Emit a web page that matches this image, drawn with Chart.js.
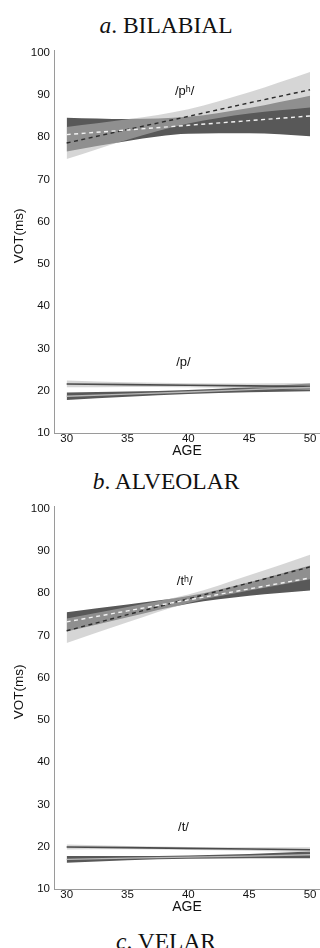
<!DOCTYPE html>
<html>
<head>
<meta charset="utf-8">
<script src="https://cdn.jsdelivr.net/npm/chart.js@4.4.1/dist/chart.umd.min.js"></script>
<style>
  html, body { margin: 0; padding: 0; background: #fff; }
  body { width: 320px; height: 948px; position: relative; overflow: hidden; }
  .ttl { position: absolute; left: 0; width: 332px; text-align: center;
         font: 23.5px/1 "Liberation Serif", "Times New Roman", serif; color: #111; white-space: nowrap; }
  canvas { position: absolute; left: 0; }
</style>
</head>
<body>
<div class="ttl" style="top:13.6px"><i>a</i>. BILABIAL</div>
<canvas id="chartA" width="320" height="420" style="top:40px"></canvas>
<div class="ttl" style="top:470.3px"><i>b</i>. ALVEOLAR</div>
<canvas id="chartB" width="320" height="420" style="top:496px"></canvas>
<div class="ttl" style="top:929.5px"><i>c</i>. VELAR</div>
<script>
// ---------- data ----------
const ages = [30, 35, 40, 45, 50];
const xTicks = [30, 35, 40, 45, 50];
const yTicks = [10, 20, 30, 40, 50, 60, 70, 80, 90, 100];

// a. BILABIAL, /pʰ/
const aAspLightMid = [78.6, 81.8, 84.9, 88.1, 91.2];
const aAspLightHi  = [82.4, 84.2, 86.6, 90.6, 95.4];
const aAspLightLo  = [74.8, 79.4, 83.2, 85.6, 87.0];
const aAspDarkMid  = [80.6, 81.7, 82.8, 83.9, 85.0];
const aAspDarkHi   = [84.6, 84.3, 84.8, 86.9, 89.8];
const aAspDarkLo   = [76.6, 79.1, 80.8, 80.9, 80.2];
// a. BILABIAL, /p/
const aUnaLightMid = [21.6, 21.45, 21.3, 21.15, 21.0];
const aUnaLightHi  = [22.4, 22.0, 21.75, 21.7, 21.8];
const aUnaLightLo  = [20.8, 20.9, 20.85, 20.6, 20.2];
const aUnaDarkMid  = [18.7, 19.2, 19.7, 20.25, 20.8];
const aUnaDarkHi   = [19.6, 19.8, 20.2, 20.85, 21.7];
const aUnaDarkLo   = [17.8, 18.55, 19.2, 19.65, 19.9];

// b. ALVEOLAR, /tʰ/
const bAspLightMid = [71.1, 74.9, 78.65, 82.4, 86.2];
const bAspLightHi  = [74.0, 76.7, 79.65, 84.2, 89.1];
const bAspLightLo  = [68.2, 73.1, 77.65, 80.6, 83.3];
const bAspDarkMid  = [73.2, 75.8, 78.4, 81.0, 83.6];
const bAspDarkHi   = [75.5, 77.3, 79.3, 82.6, 86.55];
const bAspDarkLo   = [70.9, 74.3, 77.5, 79.4, 80.65];
// b. ALVEOLAR, /t/
const bUnaLightMid = [19.95, 19.8, 19.6, 19.45, 19.3];
const bUnaLightHi  = [20.55, 20.2, 19.95, 19.85, 19.9];
const bUnaLightLo  = [19.35, 19.4, 19.25, 19.05, 18.7];
const bUnaDarkMid  = [17.0, 17.3, 17.55, 17.8, 18.1];
const bUnaDarkHi   = [17.8, 17.8, 17.95, 18.3, 18.9];
const bUnaDarkLo   = [16.2, 16.8, 17.15, 17.3, 17.3];

const aLabels = ['/pʰ/', '/p/'];
const bLabels = ['/tʰ/', '/t/'];

// ---------- styles ----------
const SANS = '"Liberation Sans", Arial, Helvetica, sans-serif';
const DARK_FILL = 'rgb(88,88,88)';
const LIGHT_FILL = 'rgba(184,184,184,0.575)';
const AXIS = '#9a9a9a';
const TXT = '#111';

function pts(arr) { return ages.map((a, i) => ({ x: a, y: arr[i] })); }

function buildDatasets(g) {
  const ds = [];
  function band(hi, lo, color, order) {
    ds.push({ data: pts(hi), borderWidth: 0, pointRadius: 0, fill: false, order: order,
              cubicInterpolationMode: 'monotone' });
    ds.push({ data: pts(lo), borderWidth: 0, pointRadius: 0, fill: '-1', backgroundColor: color,
              order: order - 1, cubicInterpolationMode: 'monotone' });
  }
  function line(mid, color, width, dash, order) {
    ds.push({ data: pts(mid), borderColor: color, borderWidth: width, borderDash: dash,
              pointRadius: 0, fill: false, tension: 0, order: order });
  }
  band(g.aspDarkHi, g.aspDarkLo, DARK_FILL, 40);
  band(g.aspLightHi, g.aspLightLo, LIGHT_FILL, 30);
  band(g.unaDarkHi, g.unaDarkLo, DARK_FILL, 20);
  band(g.unaLightHi, g.unaLightLo, LIGHT_FILL, 10);
  line(g.aspLightMid, '#2b2b2b', 1.4, [4, 3.5], 3);
  line(g.aspDarkMid, '#f2f2f2', 1.4, [4, 3.5], 2);
  line(g.unaLightMid, '#4a4a4a', 1.6, [], 1);
  line(g.unaDarkMid, '#b8b8b8', 1.3, [], 0);
  return ds;
}

const labelPlugin = {
  id: 'phonLabels',
  afterDatasetsDraw(chart, args, opts) {
    const { ctx, scales: { x, y }, chartArea } = chart;
    ctx.save();
    ctx.fillStyle = TXT;
    ctx.textAlign = 'center';
    ctx.textBaseline = 'middle';
    ctx.font = '13px ' + SANS;
    opts.items.forEach(it => ctx.fillText(it.text, x.getPixelForValue(it.x), y.getPixelForValue(it.y)));
    ctx.font = '13.5px ' + SANS;
    ctx.translate(19.5, (chartArea.top + chartArea.bottom) / 2 - 6);
    ctx.rotate(-Math.PI / 2);
    ctx.fillText('VOT(ms)', 0, 0);
    ctx.restore();
  }
};

function makeChart(id, g, labels) {
  new Chart(document.getElementById(id), {
    type: 'line',
    data: { datasets: buildDatasets(g) },
    plugins: [labelPlugin],
    options: {
      responsive: false,
      animation: false,
      devicePixelRatio: 1,
      layout: { padding: { top: 10.3, right: 0, left: 0, bottom: 0 } },
      plugins: {
        legend: { display: false },
        tooltip: { enabled: false },
        phonLabels: { items: [
          { text: labels[0], x: 39.7, y: g.aspLabelY },
          { text: labels[1], x: 39.6, y: g.unaLabelY }
        ] }
      },
      scales: {
        x: {
          type: 'linear', min: 28.96, max: 50.82,
          afterBuildTicks: s => { s.ticks = xTicks.map(v => ({ value: v })); },
          afterFit: s => { s.height = 27; },
          grid: { display: false, drawTicks: false },
          border: { display: true, color: AXIS, width: 1 },
          ticks: { color: TXT, font: { family: SANS, size: 11.5 }, padding: -1, maxRotation: 0, autoSkip: false },
          title: { display: true, text: 'AGE', color: TXT, font: { family: SANS, size: 14 }, padding: { top: 0, bottom: 0 } }
        },
        y: {
          type: 'linear', min: 10, max: 100.4,
          afterBuildTicks: s => { s.ticks = yTicks.map(v => ({ value: v })); },
          afterFit: s => { s.width = 54; },
          grid: { display: false, drawTicks: false },
          border: { display: true, color: AXIS, width: 1 },
          ticks: { color: TXT, font: { family: SANS, size: 11.5 }, padding: 4 }
        }
      }
    }
  });
}

makeChart('chartA', {
  aspLightMid: aAspLightMid, aspLightHi: aAspLightHi, aspLightLo: aAspLightLo,
  aspDarkMid: aAspDarkMid, aspDarkHi: aAspDarkHi, aspDarkLo: aAspDarkLo,
  unaLightMid: aUnaLightMid, unaLightHi: aUnaLightHi, unaLightLo: aUnaLightLo,
  unaDarkMid: aUnaDarkMid, unaDarkHi: aUnaDarkHi, unaDarkLo: aUnaDarkLo,
  aspLabelY: 90.8, unaLabelY: 26.6
}, aLabels);

makeChart('chartB', {
  aspLightMid: bAspLightMid, aspLightHi: bAspLightHi, aspLightLo: bAspLightLo,
  aspDarkMid: bAspDarkMid, aspDarkHi: bAspDarkHi, aspDarkLo: bAspDarkLo,
  unaLightMid: bUnaLightMid, unaLightHi: bUnaLightHi, unaLightLo: bUnaLightLo,
  unaDarkMid: bUnaDarkMid, unaDarkHi: bUnaDarkHi, unaDarkLo: bUnaDarkLo,
  aspLabelY: 82.8, unaLabelY: 24.5
}, bLabels);
</script>
</body>
</html>
